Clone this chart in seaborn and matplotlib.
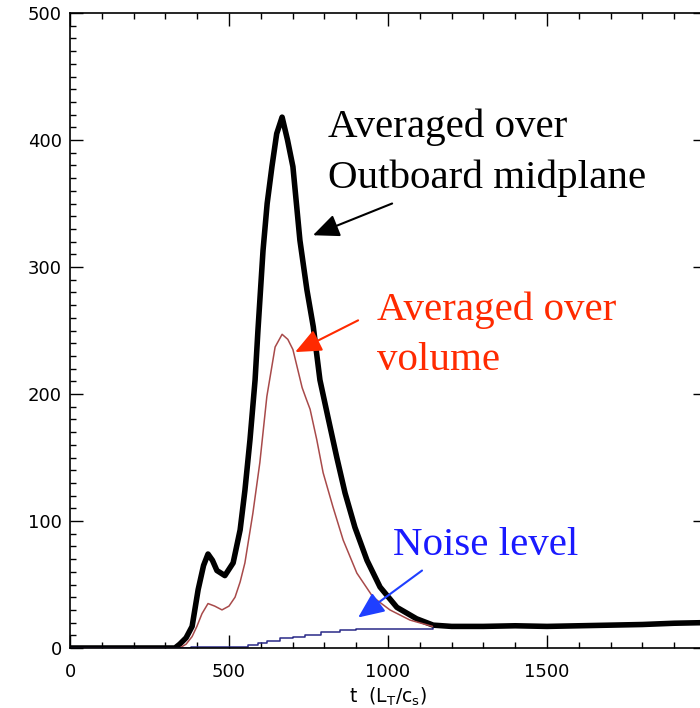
import numpy as np
import pandas as pd
import matplotlib
matplotlib.use("Agg")
import matplotlib.pyplot as plt
import seaborn as sns

# ---- data ----
t_mid = [0, 330, 345, 365, 384, 403, 420, 434, 448, 462, 487, 513, 535, 550, 566, 582, 591,
         607, 620, 635, 650, 667, 684, 701, 723, 745, 765, 786, 811, 839, 865, 896, 934, 975,
         1028, 1090, 1142, 1200, 1300, 1400, 1500, 1600, 1700, 1800, 1900, 2000]
v_mid = [0, 0, 3, 8, 17, 46, 65, 74, 69, 61, 57, 67, 93, 124, 164, 211, 250,
         313, 350, 379, 405, 418, 400, 379, 321, 282, 253, 211, 182, 150, 122, 95, 69, 48,
         32, 23, 18, 17, 17, 17.5, 17, 17.5, 18, 18.5, 19.5, 20]

t_vol = [0, 345, 365, 384, 399, 415, 434, 455, 478, 500, 519, 535, 550, 575, 597, 619, 645,
         667, 685, 701, 730, 743, 755, 776, 796, 827, 859, 902, 953, 1006, 1069, 1140]
v_vol = [0, 0, 3, 9, 17, 27, 35, 33, 30, 33, 40, 52, 67, 106, 146, 198, 237,
         247, 243, 235, 205, 196, 188, 164, 138, 111, 85, 59, 40, 30, 22, 17]

t_noise = [0, 380, 450, 560, 590, 620, 660, 700, 740, 790, 850, 900, 1140]
v_noise = [0, 0.5, 1, 2.5, 4, 5.5, 7.5, 9, 10.5, 12.5, 14, 15, 15.5]

x_ticks = [0, 500, 1000, 1500]
y_ticks = [0, 100, 200, 300, 400, 500]

df_mid = pd.DataFrame({"t": t_mid, "v": v_mid})
df_vol = pd.DataFrame({"t": t_vol, "v": v_vol})
df_noise = pd.DataFrame({"t": t_noise, "v": v_noise})

sns.set_style("ticks")
plt.rcParams["font.family"] = ["DejaVu Sans"]
plt.rcParams["mathtext.fontset"] = "custom"
plt.rcParams["mathtext.rm"] = "DejaVu Sans"
plt.rcParams["mathtext.it"] = "DejaVu Sans"
plt.rcParams["text.color"] = "black"
plt.rcParams["axes.labelcolor"] = "black"

fig = plt.figure(figsize=(7.0, 7.08), dpi=100)
ax = fig.add_axes([70 / 700, 60 / 708, 636 / 700, 635 / 708])

sns.lineplot(data=df_mid, x="t", y="v", ax=ax, color="black", linewidth=4.0,
             estimator=None, sort=False)
sns.lineplot(data=df_vol, x="t", y="v", ax=ax, color="#a84a4a", linewidth=1.1,
             estimator=None, sort=False)
sns.lineplot(data=df_noise, x="t", y="v", ax=ax, color="#2a2a88", linewidth=1.1,
             estimator=None, sort=False, drawstyle="steps-post")

ax.set_xlim(0, 2000)
ax.set_ylim(0, 500)
ax.set_xticks(x_ticks)
ax.set_yticks(y_ticks)
ax.set_xticks(np.arange(0, 2001, 100), minor=True)
ax.set_yticks(np.arange(0, 501, 10), minor=True)
ax.tick_params(which="both", direction="in", top=True, right=True, width=1.0,
               colors="black", labelsize=13)
ax.tick_params(which="major", length=9.5)
ax.tick_params(which="minor", length=4.5)
ax.tick_params(axis="x", which="major", pad=11)
ax.tick_params(axis="y", which="major", pad=6)
for s in ax.spines.values():
    s.set_linewidth(1.2)
    s.set_color("black")
ax.set_xlabel(r"$\mathrm{t\ \ (L_T/c_s)}$", fontsize=13.5, labelpad=3, color="black")
ax.set_ylabel("")

serif = ["Liberation Serif", "DejaVu Serif"]
fs = 29.5
ax.text(811, 402, "Averaged over", family=serif, fontsize=fs, color="black", va="baseline", ha="left")
ax.text(811, 362, "Outboard midplane", family=serif, fontsize=fs, color="black", va="baseline", ha="left")
ax.text(965, 258, "Averaged over", family=serif, fontsize=fs, color="#ff2a00", va="baseline", ha="left")
ax.text(965, 219, "volume", family=serif, fontsize=fs, color="#ff2a00", va="baseline", ha="left")
ax.text(1016, 73, "Noise level", family=serif, fontsize=fs, color="#1a1aff", va="baseline", ha="left")

def arrow(tip, tail, color):
    ax.annotate("", xy=tip, xytext=tail,
                arrowprops=dict(arrowstyle="-|>,head_length=0.8,head_width=0.35",
                                mutation_scale=20, color=color, lw=1.5,
                                shrinkA=0, shrinkB=0))

arrow((764, 325), (1013, 350), "black")
arrow((708, 233), (906, 258), "#ff2a00")
arrow((906, 24), (1107, 61), "#1f3fff")

fig.savefig("out.png", dpi=100)
